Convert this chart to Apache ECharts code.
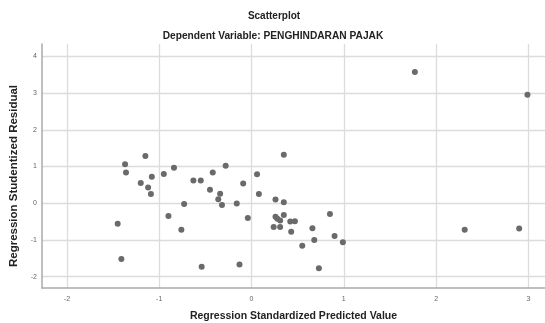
<!DOCTYPE html>
<html>
<head>
<meta charset="utf-8">
<style>
  html, body { margin: 0; padding: 0; background: #fff; }
  #chart { width: 545px; height: 323px; }
</style>
<script src="https://cdn.jsdelivr.net/npm/echarts@6/dist/echarts.min.js"></script>
</head>
<body>
<div id="chart"></div>
<script>
// predicted (x) and studentized residual (y)
var predicted = [
  -1.37, -1.36, -1.15, -1.20, -1.12, -1.08, -1.09, -0.95, -0.84, -0.63,
  -0.55, -0.45, -0.73, -0.90, -0.76, -1.45, -1.41, -0.54,
  0.35, -0.28, -0.42, 0.06, -0.09, -0.34, -0.36, -0.32, -0.16, 0.08,
  0.26, 0.35, -0.04, 0.26, 0.28, 0.31, 0.35, 0.42, 0.47, 0.24, 0.31,
  0.43, 0.66, 0.85, 0.90, 0.99, 0.68, 0.55, -0.13, 0.73,
  1.77, 2.99, 2.31, 2.90
];
var residual = [
  1.06, 0.84, 1.29, 0.55, 0.43, 0.72, 0.25, 0.80, 0.97, 0.62,
  0.62, 0.37, -0.02, -0.35, -0.72, -0.56, -1.52, -1.73,
  1.32, 1.02, 0.84, 0.79, 0.54, 0.26, 0.11, -0.05, -0.01, 0.25,
  0.10, 0.03, -0.40, -0.37, -0.42, -0.47, -0.32, -0.50, -0.49, -0.65, -0.65,
  -0.78, -0.68, -0.29, -0.89, -1.06, -1.00, -1.16, -1.67, -1.77,
  3.58, 2.96, -0.72, -0.69
];
var xTicks = [-2, -1, 0, 1, 2, 3];
var yTicks = [-2, -1, 0, 1, 2, 3, 4];

var points = predicted.map(function (x, i) { return [x, residual[i]]; });

var chart = echarts.init(document.getElementById('chart'));
var font = 'Liberation Sans, Arial, sans-serif';

var option = {
  animation: false,
  title: [
    {
      text: 'Scatterplot',
      left: 269, top: 6, textAlign: 'center',
      textStyle: { fontFamily: font, fontSize: 10, fontWeight: 'bold', color: '#222' }
    },
    {
      text: 'Dependent Variable: PENGHINDARAN PAJAK',
      left: 268, top: 26, textAlign: 'center',
      textStyle: { fontFamily: font, fontSize: 10.2, fontWeight: 'bold', color: '#222' }
    }
  ],
  grid: { left: 42, right: 0, top: 44, bottom: 35, outerBoundsMode: 'none' },
  xAxis: {
    type: 'value',
    min: -2.27, max: 3.18,
    name: 'Regression Standardized Predicted Value',
    nameLocation: 'middle',
    nameGap: 23,
    nameTextStyle: { fontFamily: font, fontSize: 10.5, fontWeight: 'bold', color: '#222' },
    axisLine: { show: true, onZero: false, lineStyle: { color: '#aaa', width: 1.5 } },
    axisTick: { show: false, customValues: xTicks },
    axisLabel: { customValues: xTicks, fontFamily: font, fontSize: 7, color: '#666', margin: 8 },
    splitLine: { show: true, lineStyle: { color: '#dcdcdc', width: 1.3 } }
  },
  yAxis: {
    type: 'value',
    min: -2.31, max: 4.34,
    name: 'Regression Studentized Residual',
    nameLocation: 'middle',
    nameGap: 18,
    nameTextStyle: { fontFamily: font, fontSize: 11.5, fontWeight: 'bold', color: '#222', padding: [0, 20, 0, 0] },
    axisLine: { show: true, onZero: false, lineStyle: { color: '#aaa', width: 1.5 } },
    axisTick: { show: false, customValues: yTicks },
    axisLabel: { customValues: yTicks, fontFamily: font, fontSize: 7, color: '#666', margin: 5 },
    splitLine: { show: true, lineStyle: { color: '#dcdcdc', width: 1.3 } }
  },
  series: [
    {
      type: 'scatter',
      data: points,
      symbolSize: 6,
      itemStyle: { color: '#6a6a6a', opacity: 1 }
    }
  ]
};

chart.setOption(option);
</script>
</body>
</html>
